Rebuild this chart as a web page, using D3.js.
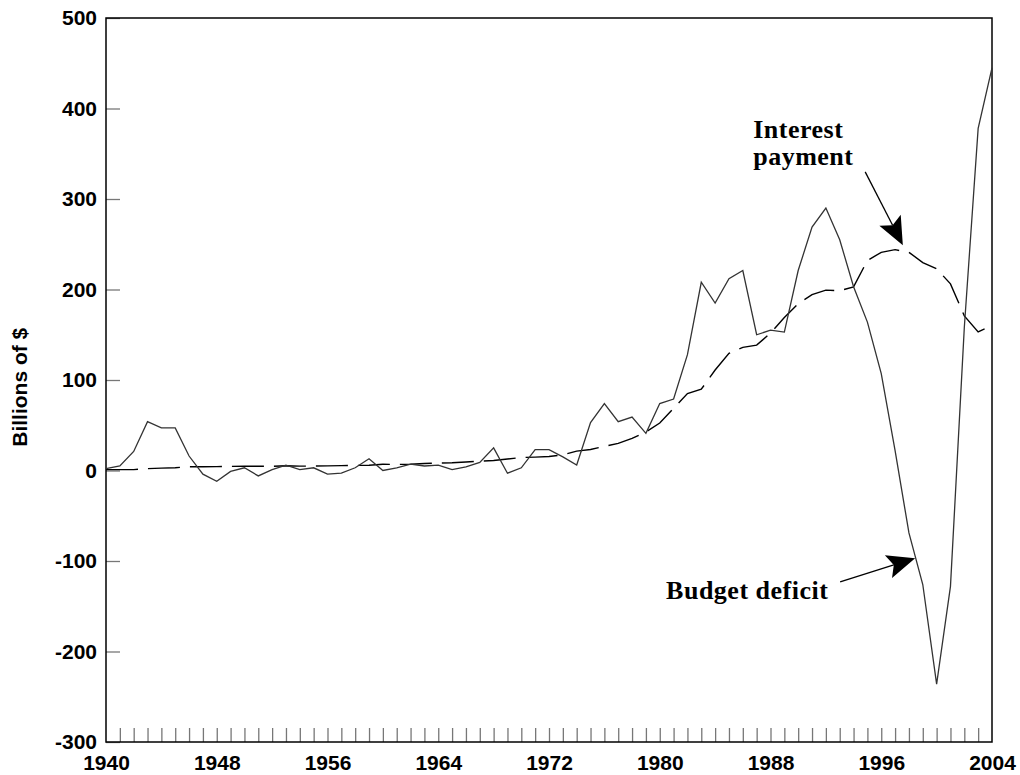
<!DOCTYPE html>
<html>
<head>
<meta charset="utf-8">
<script src="https://cdn.jsdelivr.net/npm/d3@7"></script>
<style>
  body { margin: 0; background: #fff; }
  .tick text { font-family: "Liberation Sans", Arial, sans-serif; font-weight: bold; font-size: 21px; fill: #000; }
  .note { font-family: "Liberation Serif", "Times New Roman", serif; font-weight: bold; font-size: 26px; fill: #000; }
</style>
</head>
<body>
<div id="wrapper"></div>
<script>
const years = d3.range(1940, 2005)

// budget deficit, billions of $ (positive = deficit)
const deficit = [
  2, 5, 21, 54, 47, 47, 16, -4, -12, -1,
  3, -6, 1, 6, 1, 3, -4, -3, 3, 13,
  0, 3, 7, 5, 6, 1, 4, 9, 25, -3,
  3, 23, 23, 15, 6, 53, 74, 54, 59, 41,
  74, 79, 128, 208, 185, 212, 221, 150, 155, 153,
  221, 269, 290, 255, 203, 164, 107, 22, -69, -126,
  -236, -128, 158, 378, 445,
]

// net interest payment, billions of $
const interest = [
  1, 1, 1, 2, 2.6, 3.1, 4.1, 4.2, 4.3, 4.5,
  4.8, 4.7, 4.7, 5.2, 4.8, 4.9, 5.1, 5.4, 5.6, 5.8,
  6.9, 6.7, 6.9, 7.7, 8.2, 8.6, 9.4, 10.3, 11.1, 12.7,
  14.4, 14.8, 15.5, 17.3, 21.4, 23.2, 26.7, 29.9, 35.5, 42.6,
  52.5, 68.8, 85, 89.8, 111, 129.5, 136, 138.6, 151.8, 169,
  184.3, 194.4, 199.3, 198.7, 202.9, 232.1, 241.1, 244, 241.1, 229.8,
  222.9, 206.2, 170.9, 153.1, 160.2,
]

const yTicks = [-300, -200, -100, 0, 100, 200, 300, 400, 500]
const xLabels = [1940, 1948, 1956, 1964, 1972, 1980, 1988, 1996, 2004]
const minorYears = d3.range(1941, 2004)

// annotations in data units: [year, value]
const notes = [
  { lines: ["Interest", "payment"], at: [1986.75, 367], from: [1994.84, 330], to: [1997.56, 249] },
  { lines: ["Budget deficit"], at: [1980.46, -142], from: [1993.03, -123], to: [1998.45, -97] },
]

const dimensions = {
  width: 1020,
  height: 775,
  margin: { top: 18, right: 28, bottom: 33, left: 106 },
}
dimensions.boundedWidth = dimensions.width - dimensions.margin.left - dimensions.margin.right
dimensions.boundedHeight = dimensions.height - dimensions.margin.top - dimensions.margin.bottom

const svg = d3.select("#wrapper").append("svg")
  .attr("width", dimensions.width)
  .attr("height", dimensions.height)

const bounds = svg.append("g")
  .attr("transform", `translate(${dimensions.margin.left},${dimensions.margin.top})`)

const xScale = d3.scaleLinear()
  .domain([1940, 2004])
  .range([0, dimensions.boundedWidth])

const yScale = d3.scaleLinear()
  .domain([-300, 500])
  .range([dimensions.boundedHeight, 0])

// minor year ticks, pointing up from the bottom
bounds.append("g")
  .attr("transform", `translate(0,${dimensions.boundedHeight})`)
  .call(d3.axisBottom(xScale).tickValues(minorYears).tickSize(-14).tickFormat(""))
  .call(g => g.select(".domain").remove())
  .call(g => g.selectAll("line").attr("stroke", "#777").attr("stroke-width", 1.3))

// year labels
bounds.append("g")
  .attr("transform", `translate(0,${dimensions.boundedHeight})`)
  .call(d3.axisBottom(xScale).tickValues(xLabels).tickSize(0).tickPadding(13).tickFormat(d => String(d)))
  .call(g => g.select(".domain").remove())

// y axis
bounds.append("g")
  .call(d3.axisLeft(yScale).tickValues(yTicks).tickSize(-14).tickPadding(22).tickFormat(d => String(d)))
  .call(g => g.select(".domain").remove())
  .call(g => g.selectAll("line").attr("stroke", "#777").attr("stroke-width", 1.3))
  .call(g => g.selectAll("text").attr("x", -9))

// frame
bounds.append("rect")
  .attr("width", dimensions.boundedWidth)
  .attr("height", dimensions.boundedHeight)
  .attr("fill", "none")
  .attr("stroke", "#000")
  .attr("stroke-width", 1.5)

svg.append("text")
  .attr("transform", `translate(27,${dimensions.margin.top + yScale(92)}) rotate(-90)`)
  .attr("text-anchor", "middle")
  .style("font-family", "'Liberation Sans', Arial, sans-serif")
  .style("font-weight", "bold")
  .style("font-size", "21px")
  .text("Billions of $")

const line = d3.line()
  .x((d, i) => xScale(years[i]))
  .y(d => yScale(d))

bounds.append("path")
  .datum(interest)
  .attr("d", line)
  .attr("fill", "none")
  .attr("stroke", "#000")
  .attr("stroke-width", 1.4)
  .attr("stroke-dasharray", "32,10")

bounds.append("path")
  .datum(deficit)
  .attr("d", line)
  .attr("fill", "none")
  .attr("stroke", "#333")
  .attr("stroke-width", 1.3)

// annotations
notes.forEach(n => {
  const t = bounds.append("text")
    .attr("class", "note")
    .attr("x", xScale(n.at[0]))
    .attr("y", yScale(n.at[1]))
    .style("letter-spacing", "0.5px")
  n.lines.forEach((s, i) => {
    t.append("tspan")
      .attr("x", xScale(n.at[0]))
      .attr("dy", i === 0 ? 0 : 27)
      .text(s)
  })

  const x0 = xScale(n.from[0]), y0 = yScale(n.from[1])
  const x1 = xScale(n.to[0]), y1 = yScale(n.to[1])
  const len = Math.hypot(x1 - x0, y1 - y0)
  const ux = (x1 - x0) / len, uy = (y1 - y0) / len
  const headLen = 28, half = 12
  const bx = x1 - ux * headLen, by = y1 - uy * headLen
  const nx = x1 - ux * headLen * 0.8, ny = y1 - uy * headLen * 0.8

  bounds.append("line")
    .attr("x1", x0).attr("y1", y0)
    .attr("x2", nx).attr("y2", ny)
    .attr("stroke", "#000")
    .attr("stroke-width", 1.3)

  bounds.append("path")
    .attr("d", `M${x1},${y1}L${bx - uy * half},${by + ux * half}L${nx},${ny}L${bx + uy * half},${by - ux * half}Z`)
    .attr("fill", "#000")
})
</script>
</body>
</html>
